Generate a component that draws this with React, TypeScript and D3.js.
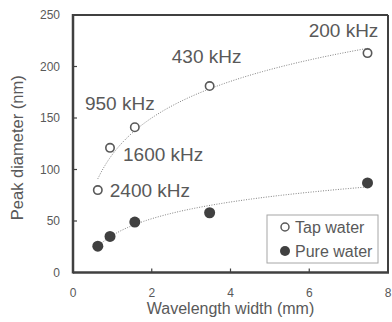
import React from "react";
import * as d3 from "d3";

// wavelength width (mm) and peak diameter (nm)
const wavelength = [0.63, 0.94, 1.57, 3.47, 7.48];
const tapWater = [80, 121, 141, 181, 213];
const pureWater = [25.5, 35, 49, 58, 87];
const frequencies = ["2400 kHz", "1600 kHz", "950 kHz", "430 kHz", "200 kHz"];
const xTicks = [0, 2, 4, 6, 8];
const yTicks = [0, 50, 100, 150, 200, 250];
const legendLabels = ["Tap water", "Pure water"];

const W = 392;
const H = 322;
const margin = { left: 73, right: 4, top: 15, bottom: 49.5 };

// where each frequency label sits relative to its tap water point
const labelOffsets = [
  { dx: 12, dy: 7, anchor: "start" },
  { dx: 13, dy: 13, anchor: "start" },
  { dx: -15, dy: -17, anchor: "middle" },
  { dx: -3, dy: -23, anchor: "middle" },
  { dx: -24, dy: -16, anchor: "middle" },
];

// Excel-style logarithmic trendline: y = a ln(x) + b
function logFit(xs: number[], ys: number[]) {
  const lx = xs.map(Math.log);
  const mx = d3.mean(lx) as number;
  const my = d3.mean(ys) as number;
  const a =
    d3.sum(lx, (v, i) => (v - mx) * (ys[i] - my)) /
    d3.sum(lx, v => (v - mx) * (v - mx));
  const b = my - a * mx;
  return (x: number) => a * Math.log(x) + b;
}

const font = "'Liberation Sans', Arial, sans-serif";
const textColor = "#595959";
const axisColor = "#404040";

export default function App() {
  const x = d3
    .scaleLinear()
    .domain([0, 8])
    .range([margin.left, W - margin.right]);
  const y = d3
    .scaleLinear()
    .domain([0, 250])
    .range([H - margin.bottom, margin.top]);

  const x0 = x.range()[0];
  const x1 = x.range()[1];
  const y0 = y.range()[0];
  const y1 = y.range()[1];

  //trendlines, sampled over the span of the data
  const xs = d3.range(0, 101).map(
    i => d3.min(wavelength)! + (i / 100) * (d3.max(wavelength)! - d3.min(wavelength)!)
  );
  const line = d3
    .line<[number, number]>()
    .x(d => x(d[0]))
    .y(d => y(d[1]));
  const tapFit = logFit(wavelength, tapWater);
  const pureFit = logFit(wavelength, pureWater);
  const tapPath = line(xs.map(v => [v, tapFit(v)]));
  const purePath = line(xs.map(v => [v, pureFit(v)]));

  return (
    <svg
      width={W}
      height={H}
      style={{ position: "absolute", left: 0, top: 0, background: "#fff" }}
      fontFamily={font}
    >
      {/* frame */}
      <line x1={x0} x2={x1} y1={y1} y2={y1} stroke={axisColor} strokeWidth={2} />
      <line x1={x1} x2={x1} y1={y1} y2={y0} stroke={axisColor} strokeWidth={2} />
      <line x1={x0} x2={x1 + 1} y1={y0} y2={y0} stroke={axisColor} strokeWidth={2.5} />
      <line x1={x0} x2={x0} y1={y1 - 1} y2={y0 + 1} stroke={axisColor} strokeWidth={2.5} />

      {/* ticks */}
      {xTicks.map(t => (
        <g key={"x" + t}>
          {t > 0 && t < 8 && (
            <line x1={x(t)} x2={x(t)} y1={y0} y2={y0 - 4} stroke={axisColor} strokeWidth={1.2} />
          )}
          <text x={x(t)} y={y0 + 24} textAnchor="middle" fontSize={12} fill={textColor}>
            {t}
          </text>
        </g>
      ))}
      {yTicks.map(t => (
        <g key={"y" + t}>
          {t > 0 && t < 250 && (
            <line x1={x0} x2={x0 + 4} y1={y(t)} y2={y(t)} stroke={axisColor} strokeWidth={1.2} />
          )}
          <text x={x0 - 13} y={y(t) + 4} textAnchor="end" fontSize={12} fill={textColor}>
            {t}
          </text>
        </g>
      ))}

      {/* axis titles */}
      <text x={(x0 + x1) / 2 + 0} y={H - 8} textAnchor="middle" fontSize={16} fill={textColor}>
        Wavelength width (mm)
      </text>
      <text
        transform={`translate(23,${(y0 + y1) / 2 + 4}) rotate(-90)`}
        textAnchor="middle"
        fontSize={16.5}
        fill={textColor}
      >
        Peak diameter (nm)
      </text>

      {/* trendlines */}
      <path d={tapPath ?? ""} fill="none" stroke="#7f7f7f" strokeWidth={1} strokeDasharray="1,1.5" />
      <path d={purePath ?? ""} fill="none" stroke="#7f7f7f" strokeWidth={1} strokeDasharray="1,1.5" />

      {/* points */}
      {wavelength.map((w, i) => (
        <circle key={"p" + i} cx={x(w)} cy={y(pureWater[i])} r={5.5} fill={axisColor} />
      ))}
      {wavelength.map((w, i) => (
        <circle
          key={"t" + i}
          cx={x(w)}
          cy={y(tapWater[i])}
          r={4.2}
          fill="#fff"
          stroke={textColor}
          strokeWidth={1.6}
        />
      ))}

      {/* frequency labels */}
      {frequencies.map((f, i) => (
        <text
          key={f}
          x={x(wavelength[i]) + labelOffsets[i].dx}
          y={y(tapWater[i]) + labelOffsets[i].dy}
          textAnchor={labelOffsets[i].anchor}
          fontSize={19}
          fill={textColor}
        >
          {f}
        </text>
      ))}

      {/* legend */}
      <g transform="translate(267,215)">
        <rect width={111} height={48} fill="#fff" stroke="#a6a6a6" strokeWidth={1} />
        <circle cx={18} cy={12} r={4} fill="#fff" stroke={textColor} strokeWidth={1.5} />
        <text x={28} y={17.5} fontSize={16} fill={textColor}>
          {legendLabels[0]}
        </text>
        <circle cx={18} cy={36} r={5} fill={axisColor} />
        <text x={28} y={41.5} fontSize={16} fill={textColor}>
          {legendLabels[1]}
        </text>
      </g>
    </svg>
  );
}
